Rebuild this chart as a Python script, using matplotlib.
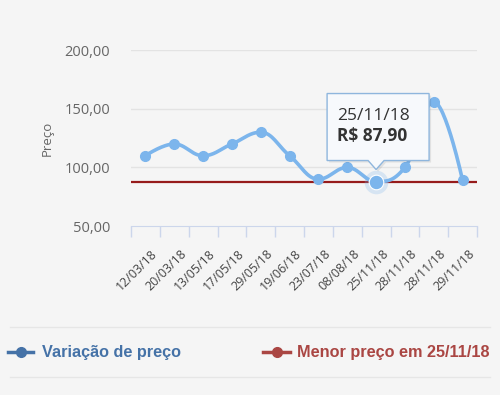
import numpy as np
import matplotlib.pyplot as plt
from matplotlib.patches import Polygon
from matplotlib.lines import Line2D

# price history
datas = ["12/03/18", "20/03/18", "13/05/18", "17/05/18", "29/05/18", "19/06/18",
         "23/07/18", "08/08/18", "25/11/18", "28/11/18", "28/11/18", "29/11/18"]
precos = [109.90, 119.90, 109.90, 119.90, 129.90, 109.90,
          89.90, 99.90, 87.90, 99.90, 155.90, 88.90]
menor_preco = 87.90
menor_data = "25/11/18"
yticks = [50, 100, 150, 200]

BG = "#f5f5f5"
LINE = "#7cb5ec"
RED = "#961b1b"


def spline_path(xs, ys, smoothing=1.5):
    # bezier spline like the highcharts "spline" series
    n = len(xs)
    left = [None] * n
    right = [None] * n
    for i in range(n):
        x, y = xs[i], ys[i]
        if i == 0 or i == n - 1:
            left[i] = (x, y)
            right[i] = (x, y)
            continue
        lx, ly = xs[i - 1], ys[i - 1]
        nx, ny = xs[i + 1], ys[i + 1]
        d = smoothing + 1
        lcx, lcy = (smoothing * x + lx) / d, (smoothing * y + ly) / d
        rcx, rcy = (smoothing * x + nx) / d, (smoothing * y + ny) / d
        corr = (rcy - lcy) * (rcx - x) / (rcx - lcx) + y - rcy
        lcy += corr
        rcy += corr
        if lcy > ly and lcy > y:
            lcy = max(ly, y); rcy = 2 * y - lcy
        elif lcy < ly and lcy < y:
            lcy = min(ly, y); rcy = 2 * y - lcy
        if rcy > ny and rcy > y:
            rcy = max(ny, y); lcy = 2 * y - rcy
        elif rcy < ny and rcy < y:
            rcy = min(ny, y); lcy = 2 * y - rcy
        left[i] = (lcx, lcy)
        right[i] = (rcx, rcy)
    px, py = [xs[0]], [ys[0]]
    t = np.linspace(0, 1, 30)[1:]
    for i in range(1, n):
        p0 = np.array([xs[i - 1], ys[i - 1]])
        p1 = np.array(right[i - 1])
        p2 = np.array(left[i])
        p3 = np.array([xs[i], ys[i]])
        for tt in t:
            p = ((1 - tt) ** 3) * p0 + 3 * ((1 - tt) ** 2) * tt * p1 + 3 * (1 - tt) * tt ** 2 * p2 + tt ** 3 * p3
            px.append(p[0]); py.append(p[1])
    return px, py


fig = plt.figure(figsize=(5, 3.95), dpi=100)
fig.patch.set_facecolor(BG)
ax = fig.add_axes([131 / 500, 1 - 226 / 395, 346 / 500, 176 / 395])
ax.set_facecolor(BG)

x = np.arange(len(precos))
ax.set_xlim(-0.5, len(precos) - 0.5)
ax.set_ylim(50, 200)

for v in yticks[1:]:
    ax.axhline(v, color="#e3e3e3", lw=1, zorder=0)
ax.axhline(menor_preco, color=RED, lw=1.6, zorder=1)

sx, sy = spline_path(list(x), precos)
ax.plot(sx, sy, color=LINE, lw=2.6, solid_capstyle="round", zorder=3)
ax.plot(x, precos, "o", color=LINE, ms=7, zorder=4)

# hovered point
i_min = precos.index(menor_preco)
ax.plot(i_min, menor_preco, "o", ms=17, color=LINE, alpha=0.25, mec="none", zorder=4)
ax.plot(i_min, menor_preco, "o", ms=10.5, color=LINE, mec="white", mew=0.8, zorder=5)

for s in ["top", "right", "left"]:
    ax.spines[s].set_visible(False)
ax.spines["bottom"].set_color("#ccd6eb")
ax.set_yticks(yticks)
ax.set_yticklabels([f"{v:.2f}".replace(".", ",") for v in yticks],
                   fontsize=10.5, color="#666666", family="Open Sans")
ax.tick_params(axis="y", length=0, pad=15)
ax.set_xticks(np.arange(len(precos) + 1) - 0.5, minor=False)
ax.set_xticklabels([])
ax.tick_params(axis="x", length=8, color="#ccd6eb", width=1)
for i, d in enumerate(datas):
    ax.annotate(d, (i, 50), xytext=(4, -15), textcoords="offset points",
                rotation=45, ha="right", va="top", rotation_mode="anchor",
                fontsize=9, color="#444444", family="Open Sans",
                annotation_clip=False)
ax.set_ylabel("Preço", fontsize=9.5, color="#666666", family="Open Sans", labelpad=8)

# tooltip
fig.canvas.draw()
W, H = 500, 395
px_, py_ = ax.transData.transform((i_min, menor_preco))
top = py_ + 88
bot = py_ + 21
l, r = px_ - 49, px_ + 53
tip = py_ + 12
pts = [(l, top), (r, top), (r, bot), (px_ + 8, bot), (px_, tip), (px_ - 8, bot), (l, bot)]
pts = [(a / W, b / H) for a, b in pts]
shadow = [(a + 2 / W, b - 2 / H) for a, b in pts]
fig.patches.append(Polygon(shadow, closed=True, transform=fig.transFigure,
                           facecolor="#000000", alpha=0.08, edgecolor="none", zorder=8))
fig.patches.append(Polygon(pts, closed=True, transform=fig.transFigure,
                           facecolor="#f7f9fc", edgecolor="#8fb6dd", lw=1, zorder=9))
fig.text((l + 10) / W, (top - 22) / H, menor_data, fontsize=12.5, color="#333333",
         family="Open Sans", va="center", zorder=10)
fig.text((l + 10) / W, (top - 42) / H, "R$ " + f"{menor_preco:.2f}".replace(".", ","),
         fontsize=12.5, color="#333333", family="Open Sans", weight="bold",
         va="center", zorder=10)

# legend
for yy in [327, 377]:
    fig.add_artist(Line2D([10 / W, 490 / W], [1 - yy / H] * 2, color="#e6e6e6", lw=1))
ly = 1 - 352 / H
fig.add_artist(Line2D([8 / W, 33 / W], [ly, ly], color="#4572a7", lw=2.5))
fig.add_artist(Line2D([20.5 / W], [ly], marker="o", ms=7, color="#4572a7"))
fig.text(42 / W, ly, "Variação de preço", fontsize=11.7, weight="bold",
         color="#4572a7", family="Liberation Sans", va="center")
fig.add_artist(Line2D([263 / W, 290 / W], [ly, ly], color="#aa4643", lw=2.5))
fig.add_artist(Line2D([276.5 / W], [ly], marker="o", ms=7, color="#aa4643"))
fig.text(297 / W, ly, f"Menor preço em {menor_data}", fontsize=11.7, weight="bold",
         color="#aa4643", family="Liberation Sans", va="center")

fig.savefig("out.png", dpi=100, facecolor=BG)
